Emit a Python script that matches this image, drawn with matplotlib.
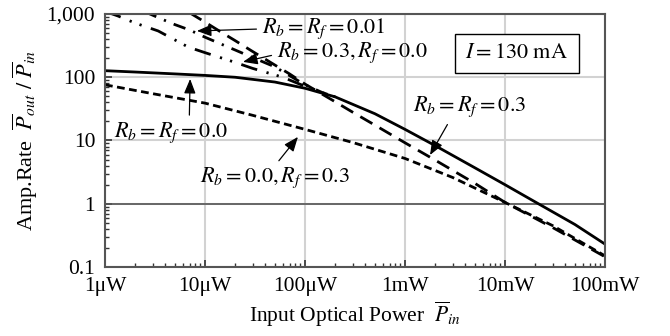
import matplotlib
matplotlib.use('Agg')
import matplotlib.pyplot as plt
from matplotlib.ticker import LogLocator, NullFormatter, FixedLocator, FixedFormatter

plt.rcParams['font.family'] = ['Liberation Serif', 'DejaVu Serif']
plt.rcParams['mathtext.fontset'] = 'stix'

# input power in uW, amplification rate
solid_x = [1, 2, 5, 10, 20, 50, 100, 200, 500, 1000, 2000, 5000, 10000, 20000, 50000, 100000]
solid_v = [127, 121, 113, 107, 100, 84, 67, 49, 26.5, 15, 8.3, 3.7, 2.0, 1.07, 0.47, 0.23]

# Rb = 0.3, Rf = 0.0 (dash-dot-dot)
a_x = [1, 1.35, 2, 3.4, 6.8, 10, 20, 30, 60, 100, 150, 200]
a_v = [1100, 930, 720, 540, 300, 245, 172, 138, 100, 72, 57, 49]

# Rb = Rf = 0.01 (dash-dot)
b_x = [2.5, 3.7, 5, 7, 10, 15, 20, 30, 50, 100, 150, 200]
b_v = [1085, 830, 680, 560, 430, 327, 270, 205, 146, 76, 57, 49]

# Rb = Rf = 0.3 (dashed)
c_x = [7, 10, 15, 20, 30, 50, 70, 100, 200, 300, 500, 1000, 2000, 5000, 10000, 30000, 100000]
c_v = [1050, 745, 500, 380, 255, 156, 113, 78, 41, 28, 17.5, 9.2, 4.9, 2.1, 1.05, 0.42, 0.145]

# Rb = 0.0, Rf = 0.3 (short dashes)
d_x = [1, 3, 10, 30, 100, 300, 1000, 3000, 10000, 30000, 100000]
d_v = [76, 55, 39, 25, 15, 9.3, 5.2, 2.6, 1.05, 0.45, 0.15]

x_ticks = [1, 10, 100, 1000, 10000, 100000]
x_labels = ['1μW', '10μW', '100μW', '1mW', '10mW', '100mW']
y_ticks = [0.1, 1, 10, 100, 1000]
y_labels = ['0.1', '1', '10', '100', '1,000']

fig = plt.figure(figsize=(6.7, 3.36), dpi=100)
ax = fig.add_axes([0.1567, 0.2054, 0.7463, 0.7529])

ax.set_xscale('log')
ax.set_yscale('log')
ax.set_xlim(1, 100000)
ax.set_ylim(0.1, 1000)

# grid
ax.grid(True, which='major', color='#d2d2d2', lw=1.5)
ax.set_axisbelow(True)

ax.axhline(1, color='#555555', lw=1.2)

ax.plot(solid_x, solid_v, color='black', lw=2.0)
ax.plot(a_x, a_v, color='black', lw=2.0, ls=(0, (6, 3.5, 0.8, 3, 0.8, 3.5)))
ax.plot(b_x, b_v, color='black', lw=2.0, ls=(0, (4.5, 3, 0.8, 3)))
ax.plot(c_x, c_v, color='black', lw=2.0, ls=(0, (5, 3)))
ax.plot(d_x, d_v, color='black', lw=2.0, ls=(0, (2.8, 1.6)))

# ticks
ax.xaxis.set_major_locator(FixedLocator(x_ticks))
ax.xaxis.set_major_formatter(FixedFormatter(x_labels))
ax.yaxis.set_major_locator(FixedLocator(y_ticks))
ax.yaxis.set_major_formatter(FixedFormatter(y_labels))
ax.xaxis.set_minor_locator(LogLocator(base=10, subs=range(2, 10), numticks=20))
ax.yaxis.set_minor_locator(LogLocator(base=10, subs=range(2, 10), numticks=20))
ax.xaxis.set_minor_formatter(NullFormatter())
ax.yaxis.set_minor_formatter(NullFormatter())
ax.tick_params(which='major', direction='in', length=5, width=1.2, color='#333333',
               labelsize=15.5, pad=7)
ax.tick_params(which='minor', direction='in', length=3, width=1, color='#333333')

for s in ax.spines.values():
    s.set_color('#555555')
    s.set_linewidth(1.5)

ax.set_xlabel(r'Input Optical Power  $\overline{P}_{in}$', fontsize=15.5, labelpad=3)
ax.set_ylabel(r'Amp.Rate  $\overline{P}_{out}\ /\ \overline{P}_{in}$', fontsize=16, labelpad=5)

arrow = dict(arrowstyle='-|>,head_length=0.55,head_width=0.22', color='black', lw=0.9,
             shrinkA=2, shrinkB=0)

fs = 16
ax.annotate(r'$R_b = R_f = 0.01$', xy=(8.3, 540), xytext=(0.314, 0.941),
            textcoords='axes fraction', ha='left', va='center', fontsize=fs,
            arrowprops=dict(arrow, relpos=(0, 0.5)))
ax.annotate(r'$R_b = 0.3, R_f = 0.0$', xy=(24, 175), xytext=(0.344, 0.846),
            textcoords='axes fraction', ha='left', va='center', fontsize=fs,
            arrowprops=dict(arrow, relpos=(0, 0.45)))
ax.annotate(r'$R_b = R_f = 0.0$', xy=(7.1, 94), xytext=(0.132, 0.53),
            textcoords='axes fraction', ha='center', va='center', fontsize=fs,
            arrowprops=dict(arrow, relpos=(0.66, 1)))
ax.annotate(r'$R_b = 0.0, R_f = 0.3$', xy=(85, 11.4), xytext=(0.19, 0.352),
            textcoords='axes fraction', ha='left', va='center', fontsize=fs,
            arrowprops=dict(arrow, relpos=(0.5, 1)))
ax.annotate(r'$R_b = R_f = 0.3$', xy=(1780, 5.9), xytext=(0.616, 0.632),
            textcoords='axes fraction', ha='left', va='center', fontsize=fs,
            arrowprops=dict(arrow, relpos=(0.33, 0)))

ax.text(0.824, 0.842, r'$I = 130\ \mathrm{mA}$', transform=ax.transAxes,
        ha='center', va='center', fontsize=fs,
        bbox=dict(boxstyle='square,pad=0.45', fc='white', ec='black', lw=1))

fig.savefig('out.png', dpi=100)
